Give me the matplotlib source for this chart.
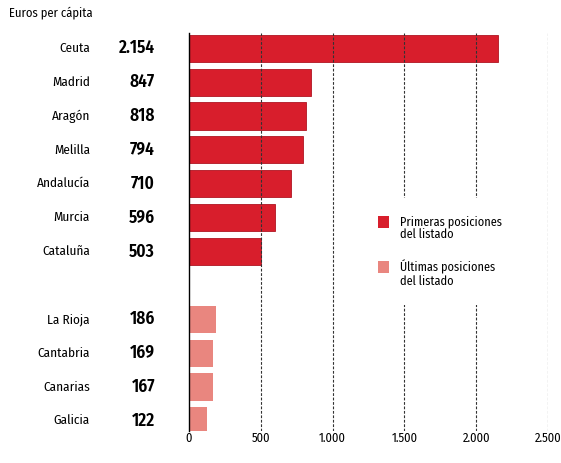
import matplotlib
matplotlib.use("Agg")
import matplotlib.pyplot as plt
from matplotlib.patches import Rectangle
from matplotlib.transforms import blended_transform_factory
from matplotlib import font_manager

available = {f.name for f in font_manager.fontManager.ttflist}
candidates = ['Fira Sans Condensed', 'PT Sans Narrow', 'Roboto Condensed', 'Encode Sans Condensed',
              'Asap Condensed', 'Archivo Narrow', 'Barlow Semi Condensed', 'Liberation Sans Narrow']
FONT = next((c for c in candidates if c in available), 'DejaVu Sans')
plt.rcParams['font.family'] = [FONT, 'DejaVu Sans']

top_regions = ["Ceuta", "Madrid", "Aragón", "Melilla", "Andalucía", "Murcia", "Cataluña"]
top_values = [2154, 847, 818, 794, 710, 596, 503]
top_labels = ["2.154", "847", "818", "794", "710", "596", "503"]
bottom_regions = ["La Rioja", "Cantabria", "Canarias", "Galicia"]
bottom_values = [186, 169, 167, 122]
bottom_labels = ["186", "169", "167", "122"]
xticks = [0, 500, 1000, 1500, 2000, 2500]
xtick_labels = ["0", "500", "1.000", "1.500", "2.000", "2.500"]
title = "Euros per cápita"
legend_labels = ["Primeras posiciones\ndel listado", "Últimas posiciones\ndel listado"]

RED = "#d81e2c"
PINK = "#e9867f"

W, H = 561, 463
fig = plt.figure(figsize=(W / 100, H / 100), dpi=100)
ax = fig.add_axes([189 / W, 1 - 431 / H, (548 - 189) / W, (431 - 33) / H])

top_pos = list(range(len(top_regions)))
bot_pos = [len(top_regions) + 1 + i for i in range(len(bottom_regions))]

ax.barh(top_pos, top_values, height=0.8, color=RED, edgecolor="#b01522", linewidth=0.6, zorder=2)
ax.barh(bot_pos, bottom_values, height=0.8, color=PINK, edgecolor="none", zorder=2)

ax.set_ylim(bot_pos[-1] + 0.3, -0.45)
ax.set_xlim(0, 2500)
ax.set_yticks([])
ax.set_xticks(xticks)
ax.set_xticklabels(xtick_labels, fontsize=9)
ax.tick_params(axis='x', length=0, pad=1)
for s in ["top", "right", "bottom"]:
    ax.spines[s].set_visible(False)
ax.spines["left"].set_linewidth(1.0)
ax.spines["left"].set_color("black")

for xv in xticks[1:]:
    ax.axvline(xv, color="#333333", linestyle=(0, (2.5, 1.5)), linewidth=0.8, zorder=3)

bt = blended_transform_factory(fig.transFigure, ax.transData)
for p, n, l in zip(top_pos + bot_pos, top_regions + bottom_regions, top_labels + bottom_labels):
    ax.text(90 / W, p, n, transform=bt, ha="right", va="center", fontsize=9.5)
    ax.text(155 / W, p, l, transform=bt, ha="right", va="center", fontsize=12.5, fontweight="semibold")

fig.text(9 / W, 1 - 13 / H, title, ha="left", va="center", fontsize=9)

# legend drawn in figure pixels (white panel hides the gridlines behind it)
def fx(px):
    return px / W

def fy(py):
    return 1 - py / H

fig.patches.append(Rectangle((fx(365), fy(305)), fx(500) - fx(365), fy(198) - fy(305),
                             transform=fig.transFigure, facecolor="white", edgecolor="none", zorder=5))
for (sq_top, color, label) in [(216, RED, legend_labels[0]), (261, PINK, legend_labels[1])]:
    fig.patches.append(Rectangle((fx(378), fy(sq_top + 12)), fx(389) - fx(378), fy(sq_top) - fy(sq_top + 12),
                                 transform=fig.transFigure, facecolor=color, edgecolor="none", zorder=6))
    fig.text(fx(400), fy(sq_top - 1), label, ha="left", va="top", fontsize=8.8,
             linespacing=1.05, zorder=7)

fig.savefig("out.png", dpi=100)
